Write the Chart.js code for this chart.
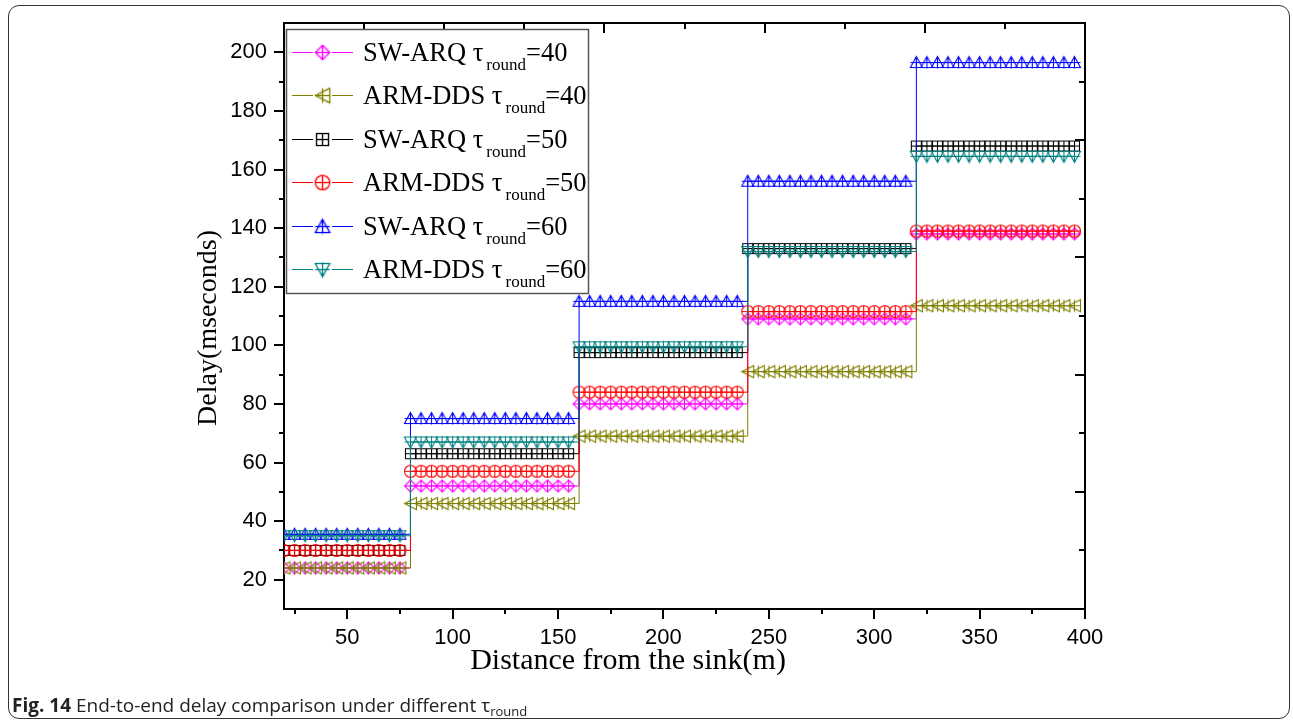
<!DOCTYPE html>
<html>
<head>
<meta charset="utf-8">
<title>End-to-end delay</title>
<script src="https://cdn.jsdelivr.net/npm/chart.js@4.4.0/dist/chart.umd.min.js"></script>
<style>
html,body{margin:0;padding:0;background:#fff;}
body{width:1293px;height:722px;position:relative;overflow:hidden;}
#frame{position:absolute;left:8px;top:5px;width:1282px;height:714px;box-sizing:border-box;border:1.5px solid #333;border-radius:11px;}
#wrap{position:absolute;left:0;top:0;width:1293px;height:722px;}
#caption{position:absolute;left:12px;top:692px;font-family:"Open Sans",sans-serif;font-size:19px;color:#222;white-space:nowrap;}
#caption b{font-weight:700;}
#caption sub{font-size:13px;vertical-align:-4px;line-height:0;}
</style>
</head>
<body>
<div id="frame"></div>
<div id="wrap"><canvas id="chart" width="1293" height="722"></canvas></div>
<div id="caption"><b>Fig. 14</b> End-to-end delay comparison under different τ<sub>round</sub></div>
<script>
// sampling positions along the path (m)
const distances=[20,25,30,35,40,45,50,55,60,65,70,75,
80,85,90,95,100,105,110,115,120,125,130,135,140,145,150,155,
160,165,170,175,180,185,190,195,200,205,210,215,220,225,230,235,
240,245,250,255,260,265,270,275,280,285,290,295,300,305,310,315,
320,325,330,335,340,345,350,355,360,365,370,375,380,385,390,395];
// the delay jumps at these distances (one more hop)
const stepEdges=[80,160,240,320];

// delay (ms) on each stretch between the edges
const swArq40=[24,52,80,109,138];
const armDds40=[24,46,69,91,113.5];
const swArq50=[30,63,97.5,133,168];
const armDds50=[30,57,84,111.5,139];
const swArq60=[35.5,75,115,156,196.5];
const armDds60=[35,67,99.5,132,164.5];

const schemes=["SW-ARQ","ARM-DDS","SW-ARQ","ARM-DDS","SW-ARQ","ARM-DDS"];
const roundTimes=[40,40,50,50,60,60];

const xMajorTicks=[50,100,150,200,250,300,350,400];
const xMinorTicks=[25,75,125,175,225,275,325,375];
const yMajorTicks=[20,40,60,80,100,120,140,160,180,200];
const yMinorTicks=[30,50,70,90,110,130,150,170,190];
const frameTicks=[0,1,2,3,4,5,6,7,8,9,10];

const fontSans='"Liberation Sans", Arial, sans-serif';
const fontSerif='"Liberation Serif", "Times New Roman", serif';

// hollow markers with a cross through them
function makeMarker(shape,color){
const cv=document.createElement("canvas");
cv.width=15;cv.height=15;
const g=cv.getContext("2d");
g.strokeStyle=color;g.lineWidth=1.1;
g.beginPath();
if(shape==="diamond"){g.moveTo(7.5,1.5);g.lineTo(13.5,7.5);g.lineTo(7.5,13.5);g.lineTo(1.5,7.5);g.closePath();}
if(shape==="left"){g.moveTo(1.5,7.5);g.lineTo(13.5,1.5);g.lineTo(13.5,13.5);g.closePath();}
if(shape==="square"){g.rect(2.5,2.5,10,10);}
if(shape==="circle"){g.arc(7.5,7.5,6,0,Math.PI*2);}
if(shape==="up"){g.moveTo(7.5,1.5);g.lineTo(13.5,12.5);g.lineTo(1.5,12.5);g.closePath();}
if(shape==="down"){g.moveTo(1.5,2.5);g.lineTo(13.5,2.5);g.lineTo(7.5,13.5);g.closePath();}
const lo=shape==="square"?2.5:1.5,hi=shape==="square"?12.5:13.5;
g.moveTo(7.5,lo);g.lineTo(7.5,hi);
g.moveTo(lo,7.5);g.lineTo(hi,7.5);
g.stroke();
return cv;
}

const colors=["#ff00ff","#808000","#000000","#ff0000","#0000ff","#008080"];
const shapes=["diamond","left","square","circle","up","down"];
const levels=[swArq40,armDds40,swArq50,armDds50,swArq60,armDds60];

function stretchOf(d){
return stepEdges.filter(e=>d>=e).length;
}

const datasets=levels.map((lv,i)=>({
label:schemes[i]+" τround="+roundTimes[i],
data:distances.map(d=>({x:d,y:lv[stretchOf(d)]})),
borderColor:colors[i],
backgroundColor:colors[i],
borderWidth:1,
stepped:true,
pointStyle:makeMarker(shapes[i],colors[i]),
pointRadius:5,
order:levels.length-i
}));

function setTicks(list){
return function(scale){scale.ticks=list.slice().sort((a,b)=>a-b).map(v=>({value:v}));};
}

// fixed box sizes so the plot frame lands where it should
function fixSize(w,h){
return function(sc){
if(w!==null)sc.width=w;
if(h!==null)sc.height=h;
sc.paddingTop=0;sc.paddingBottom=0;sc.paddingLeft=0;sc.paddingRight=0;
};
}

// tick marks: outward on bottom/left, inward on top/right
const tickMarks={
id:"tickMarks",
afterDraw(chart){
const ctx=chart.ctx,a=chart.chartArea,s=chart.scales;
ctx.save();
ctx.strokeStyle="#000";ctx.lineWidth=2;
ctx.beginPath();
xMajorTicks.concat(xMinorTicks).forEach(v=>{
const px=Math.round(s.x.getPixelForValue(v));
const len=xMajorTicks.includes(v)?10:5;
ctx.moveTo(px,a.bottom);ctx.lineTo(px,a.bottom+len);
});
yMajorTicks.concat(yMinorTicks).forEach(v=>{
const py=Math.round(s.y.getPixelForValue(v));
const len=yMajorTicks.includes(v)?10:5;
ctx.moveTo(a.left,py);ctx.lineTo(a.left-len,py);
});
frameTicks.forEach(v=>{
const len=v%2===0?10:6;
const px=Math.round(s.xTop.getPixelForValue(v));
ctx.moveTo(px,a.top);ctx.lineTo(px,a.top+len);
const py=Math.round(s.yRight.getPixelForValue(v));
ctx.moveTo(a.right,py);ctx.lineTo(a.right-len,py);
});
ctx.stroke();
ctx.restore();
}
};

// axis titles and the boxed legend with subscripts
const annotations={
id:"annotations",
afterDraw(chart){
const ctx=chart.ctx;
ctx.save();
ctx.fillStyle="#000";
ctx.textAlign="center";ctx.textBaseline="middle";
ctx.font="30px "+fontSerif;
ctx.fillText("Distance from the sink(m)",628,661);
ctx.save();
ctx.font="28px "+fontSerif;
ctx.translate(209,328);ctx.rotate(-Math.PI/2);
ctx.fillText("Delay(mseconds)",0,0);
ctx.restore();

const bx=286.5,by=29.5,bw=302,bh=264;
ctx.fillStyle="#fff";ctx.fillRect(bx,by,bw,bh);
ctx.strokeStyle="#555";ctx.lineWidth=1.5;ctx.strokeRect(bx,by,bw,bh);

ctx.textAlign="left";ctx.textBaseline="alphabetic";
chart.data.datasets.forEach((ds,i)=>{
const cy=Math.round(52+i*43.4)+0.5;
ctx.strokeStyle=ds.borderColor;ctx.lineWidth=1;
ctx.beginPath();
ctx.moveTo(292,cy);ctx.lineTo(313,cy);
ctx.moveTo(332,cy);ctx.lineTo(353,cy);
ctx.stroke();
// legend symbols are drawn a little larger than on the curves
const m=ds.pointStyle,ms=18;
ctx.drawImage(m,322.5-ms/2,cy-ms/2,ms,ms);
ctx.fillStyle="#000";
let tx=363;const base=cy+8.5;
ctx.font="26.5px "+fontSerif;
const head=schemes[i]+" τ";
ctx.fillText(head,tx,base);
tx+=ctx.measureText(head).width+3;
ctx.font="17px "+fontSerif;
ctx.fillText("round",tx,base+9);
tx+=ctx.measureText("round").width;
ctx.font="26.5px "+fontSerif;
ctx.fillText("="+roundTimes[i],tx,base);
});
ctx.restore();
}
};

const chart=new Chart(document.getElementById("chart"),{
type:"line",
data:{datasets:datasets},
options:{
responsive:false,
animation:false,
layout:{padding:0},
plugins:{legend:{display:false},tooltip:{enabled:false}},
scales:{
x:{
type:"linear",position:"bottom",min:20,max:400,
afterBuildTicks:setTicks(xMajorTicks.concat(xMinorTicks)),
afterFit:fixSize(null,113),
ticks:{autoSkip:false,maxRotation:0,padding:16,color:"#000",font:{family:fontSans,size:22},
callback:v=>xMajorTicks.includes(v)?String(v):""},
grid:{display:false,drawTicks:false},
border:{display:true,color:"#000",width:2}
},
y:{
type:"linear",position:"left",min:10,max:210,
afterBuildTicks:setTicks(yMajorTicks.concat(yMinorTicks)),
afterFit:fixSize(284,null),
ticks:{autoSkip:false,padding:17,color:"#000",font:{family:fontSans,size:22},
callback:v=>yMajorTicks.includes(v)?String(v):""},
grid:{display:false,drawTicks:false},
border:{display:true,color:"#000",width:2}
},
xTop:{
type:"linear",position:"top",min:0,max:10,
afterBuildTicks:setTicks(frameTicks),
afterFit:fixSize(null,23),
ticks:{display:false},
grid:{display:false,drawTicks:false},
border:{display:true,color:"#000",width:2}
},
yRight:{
type:"linear",position:"right",min:0,max:10,
afterBuildTicks:setTicks(frameTicks),
afterFit:fixSize(208,null),
ticks:{display:false},
grid:{display:false,drawTicks:false},
border:{display:true,color:"#000",width:2}
}
}
},
plugins:[tickMarks,annotations]
});
</script>
</body>
</html>
